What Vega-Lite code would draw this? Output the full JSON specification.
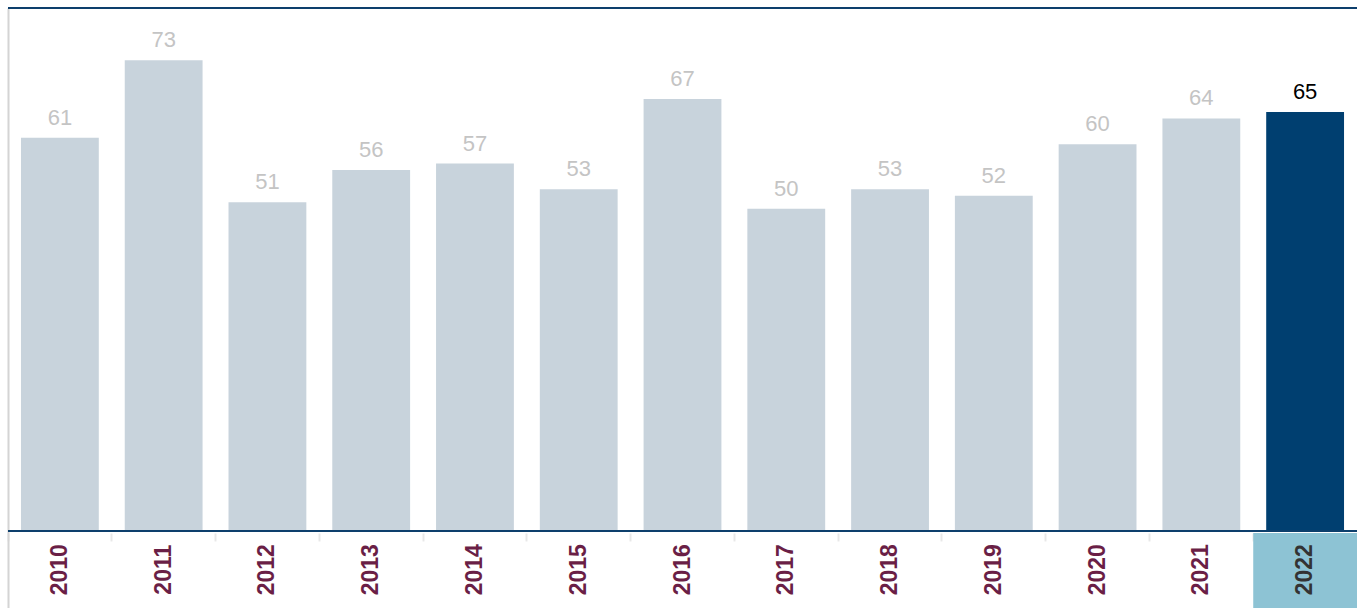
{
  "$schema": "https://vega.github.io/schema/vega-lite/v6.json",
  "width": 1349,
  "height": 600,
  "autosize": {"type": "none"},
  "padding": {"left": 8, "top": 8, "right": 0, "bottom": 0},
  "background": "white",
  "config": {"view": {"stroke": null}, "font": "Liberation Sans"},
  "data": {"values": [
    {"year": "2010", "value": 61, "hl": false},
    {"year": "2011", "value": 73, "hl": false},
    {"year": "2012", "value": 51, "hl": false},
    {"year": "2013", "value": 56, "hl": false},
    {"year": "2014", "value": 57, "hl": false},
    {"year": "2015", "value": 53, "hl": false},
    {"year": "2016", "value": 67, "hl": false},
    {"year": "2017", "value": 50, "hl": false},
    {"year": "2018", "value": 53, "hl": false},
    {"year": "2019", "value": 52, "hl": false},
    {"year": "2020", "value": 60, "hl": false},
    {"year": "2021", "value": 64, "hl": false},
    {"year": "2022", "value": 65, "hl": true}
  ]},
  "encoding": {
    "x": {"field": "year", "type": "nominal", "sort": "ascending",
      "scale": {"padding": 0},
      "axis": {"orient": "bottom", "offset": -75, "labels": false, "domain": false, "title": null,
        "ticks": true, "tickSize": 8, "tickColor": "#e8e8e8", "tickWidth": 2, "bandPosition": 0}}
  },
  "layer": [
    {
      "transform": [{"filter": "datum.hl"}],
      "mark": {"type": "bar", "color": "#8dc3d4", "width": {"band": 1}},
      "encoding": {
        "y": {"datum": -11.94, "type": "quantitative", "scale": {"domain": [-11.94, 81.12], "nice": false, "zero": false},
          "axis": {"orient": "left", "domain": true, "domainColor": "#d4d4d4", "domainWidth": 2, "ticks": false, "labels": false, "grid": false, "title": null}},
        "y2": {"datum": -0.3}
      }
    },
    {
      "mark": {"type": "bar", "width": {"band": 0.75}},
      "encoding": {
        "y": {"field": "value", "type": "quantitative"},
        "color": {"condition": {"test": "datum.hl", "value": "#003f70"}, "value": "#c8d3dc"}
      }
    },
    {
      "mark": {"type": "rule", "color": "#0d3f6c", "strokeWidth": 2},
      "encoding": {"y": {"datum": 0}, "x": null}
    },
    {
      "mark": {"type": "rule", "color": "#0d3f6c", "strokeWidth": 2},
      "encoding": {"y": {"datum": 81.12}, "x": null}
    },
    {
      "mark": {"type": "text", "fontSize": 22, "baseline": "alphabetic", "dy": -13, "align": "center"},
      "encoding": {
        "y": {"field": "value", "type": "quantitative"},
        "text": {"field": "value"},
        "color": {"condition": {"test": "datum.hl", "value": "#000000"}, "value": "#c4c4c4"}
      }
    },
    {
      "mark": {"type": "text", "fontSize": 23, "fontWeight": "bold", "angle": 270, "baseline": "middle", "align": "center"},
      "encoding": {
        "y": {"datum": -6},
        "text": {"field": "year"},
        "color": {"condition": {"test": "datum.hl", "value": "#333333"}, "value": "#6a1f46"}
      }
    }
  ]
}
